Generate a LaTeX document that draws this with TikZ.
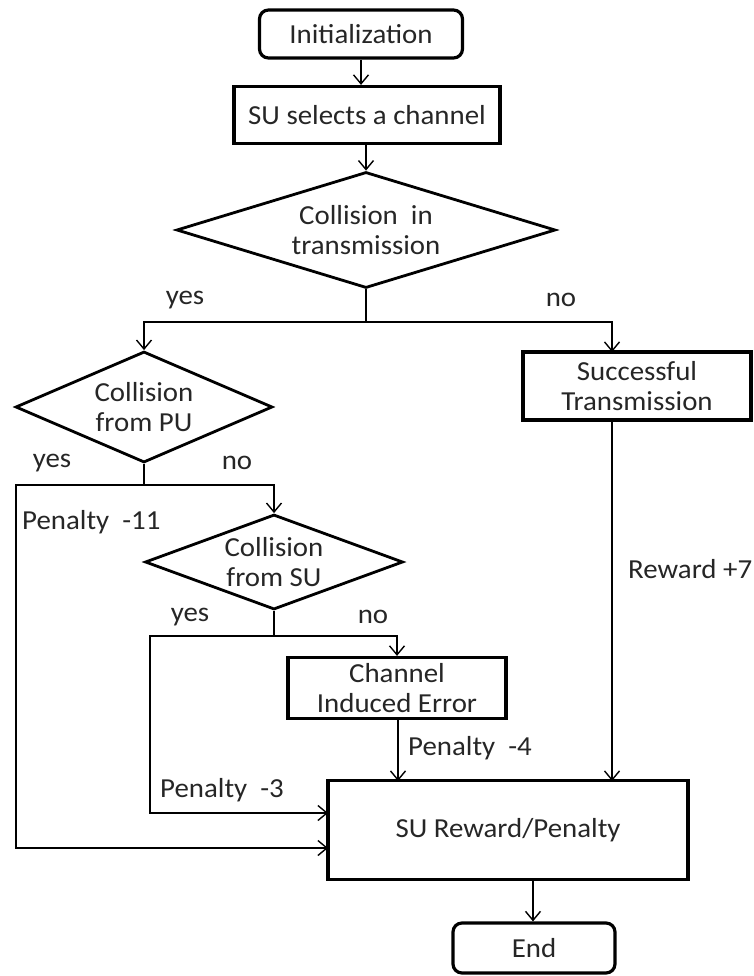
\documentclass[tikz,border=0pt]{standalone}
\usepackage{fontspec}
\setmainfont{Carlito}[FakeStretch=1.05]
\usetikzlibrary{shapes.geometric,arrows.meta}
\begin{document}
\begin{tikzpicture}[x=1pt,y=-1pt,
  every node/.style={font=\fontsize{27.5}{30}\selectfont, text=black!85},
  procbox/.style={draw, line width=3.2pt, inner sep=0pt, align=center},
  termbox/.style={procbox, rounded corners=9pt},
  decision/.style={draw, diamond, line width=2.8pt, inner sep=0pt, align=center},
  conn/.style={line width=1.4pt},
  arr/.style={conn, -{Straight Barb[length=9pt,width=15pt,line width=1.4pt]}},
  lbl/.style={inner sep=0pt}
]
\useasboundingbox (0,0) rectangle (754,976);

% nodes
\node[termbox, minimum width=203pt, minimum height=48pt] (init) at (361,34) {Initialization};
\node[procbox, minimum width=266pt, minimum height=57pt] (sel) at (367,115) {SU selects a channel};
\node[decision, minimum width=379pt, minimum height=116pt, aspect=3.27] (d1) at (366,230) {Collision\ \ in\\transmission};
\node[decision, minimum width=257pt, minimum height=111pt, aspect=2.3] (d2) at (144,407) {Collision\\from PU};
\node[procbox, minimum width=228pt, minimum height=68pt] (succ) at (637,386) {Successful\\Transmission};
\node[decision, minimum width=258pt, minimum height=95pt, aspect=2.7] (d3) at (274,562) {Collision\\from SU};
\node[procbox, minimum width=218pt, minimum height=61pt] (cie) at (397,688) {Channel\\Induced Error};
\node[procbox, minimum width=360pt, minimum height=99pt] (rew) at (508,830) {SU Reward/Penalty};
\node[termbox, minimum width=162pt, minimum height=50pt] (end) at (534,948) {End};

% junction coordinates
\coordinate (j1) at (366,322);
\coordinate (j2) at (144,485);
\coordinate (j3) at (274,636);
\coordinate (sin) at (612,352);
\coordinate (pl) at (16,485);
\coordinate (pm) at (150,636);
\coordinate (rin1) at (328,813);
\coordinate (rin2) at (328,848);
\coordinate (rtop1) at (398,781);
\coordinate (rtop2) at (612,781);
\coordinate (rbot) at (533,880);

% connectors
\draw[arr] (init.south) -- (init.south |- sel.north);
\draw[arr] (sel.south -| d1.north) -- (d1.north);
\draw[conn] (d1.south) -- (j1);
\draw[arr] (j1) -| (d2.north);
\draw[arr] (j1) -| (sin);
\draw[conn] (d2.south) -- (j2);
\draw[arr] (j2) -- (pl) |- (rin2);
\draw[arr] (j2) -| (d3.north);
\draw[conn] (d3.south) -- (j3);
\draw[arr] (j3) -- (pm) |- (rin1);
\draw[arr] (j3) -| (cie.north);
\draw[arr] (cie.south -| rtop1) -- (rtop1);
\draw[arr] (succ.south -| rtop2) -- (rtop2);
\draw[arr] (rbot) -- (rbot |- end.north);

% labels
\node[lbl] (ly1) at (185,300) {yes};
\node[lbl] (ln1) at (561,300) {no};
\node[lbl] (ly2) at (52,463) {yes};
\node[lbl] (ln2) at (237,463) {no};
\node[lbl, anchor=west] (p11) at (22,522) {Penalty\ \ -11};
\node[lbl] (ly3) at (190,617) {yes};
\node[lbl] (ln3) at (373,617) {no};
\node[lbl, anchor=west] (p4) at (408,748) {Penalty\ \ -4};
\node[lbl, anchor=west] (p3) at (160,790) {Penalty\ \ -3};
\node[lbl, anchor=west] (r7) at (628,569) {Reward +7};
\end{tikzpicture}
\end{document}
